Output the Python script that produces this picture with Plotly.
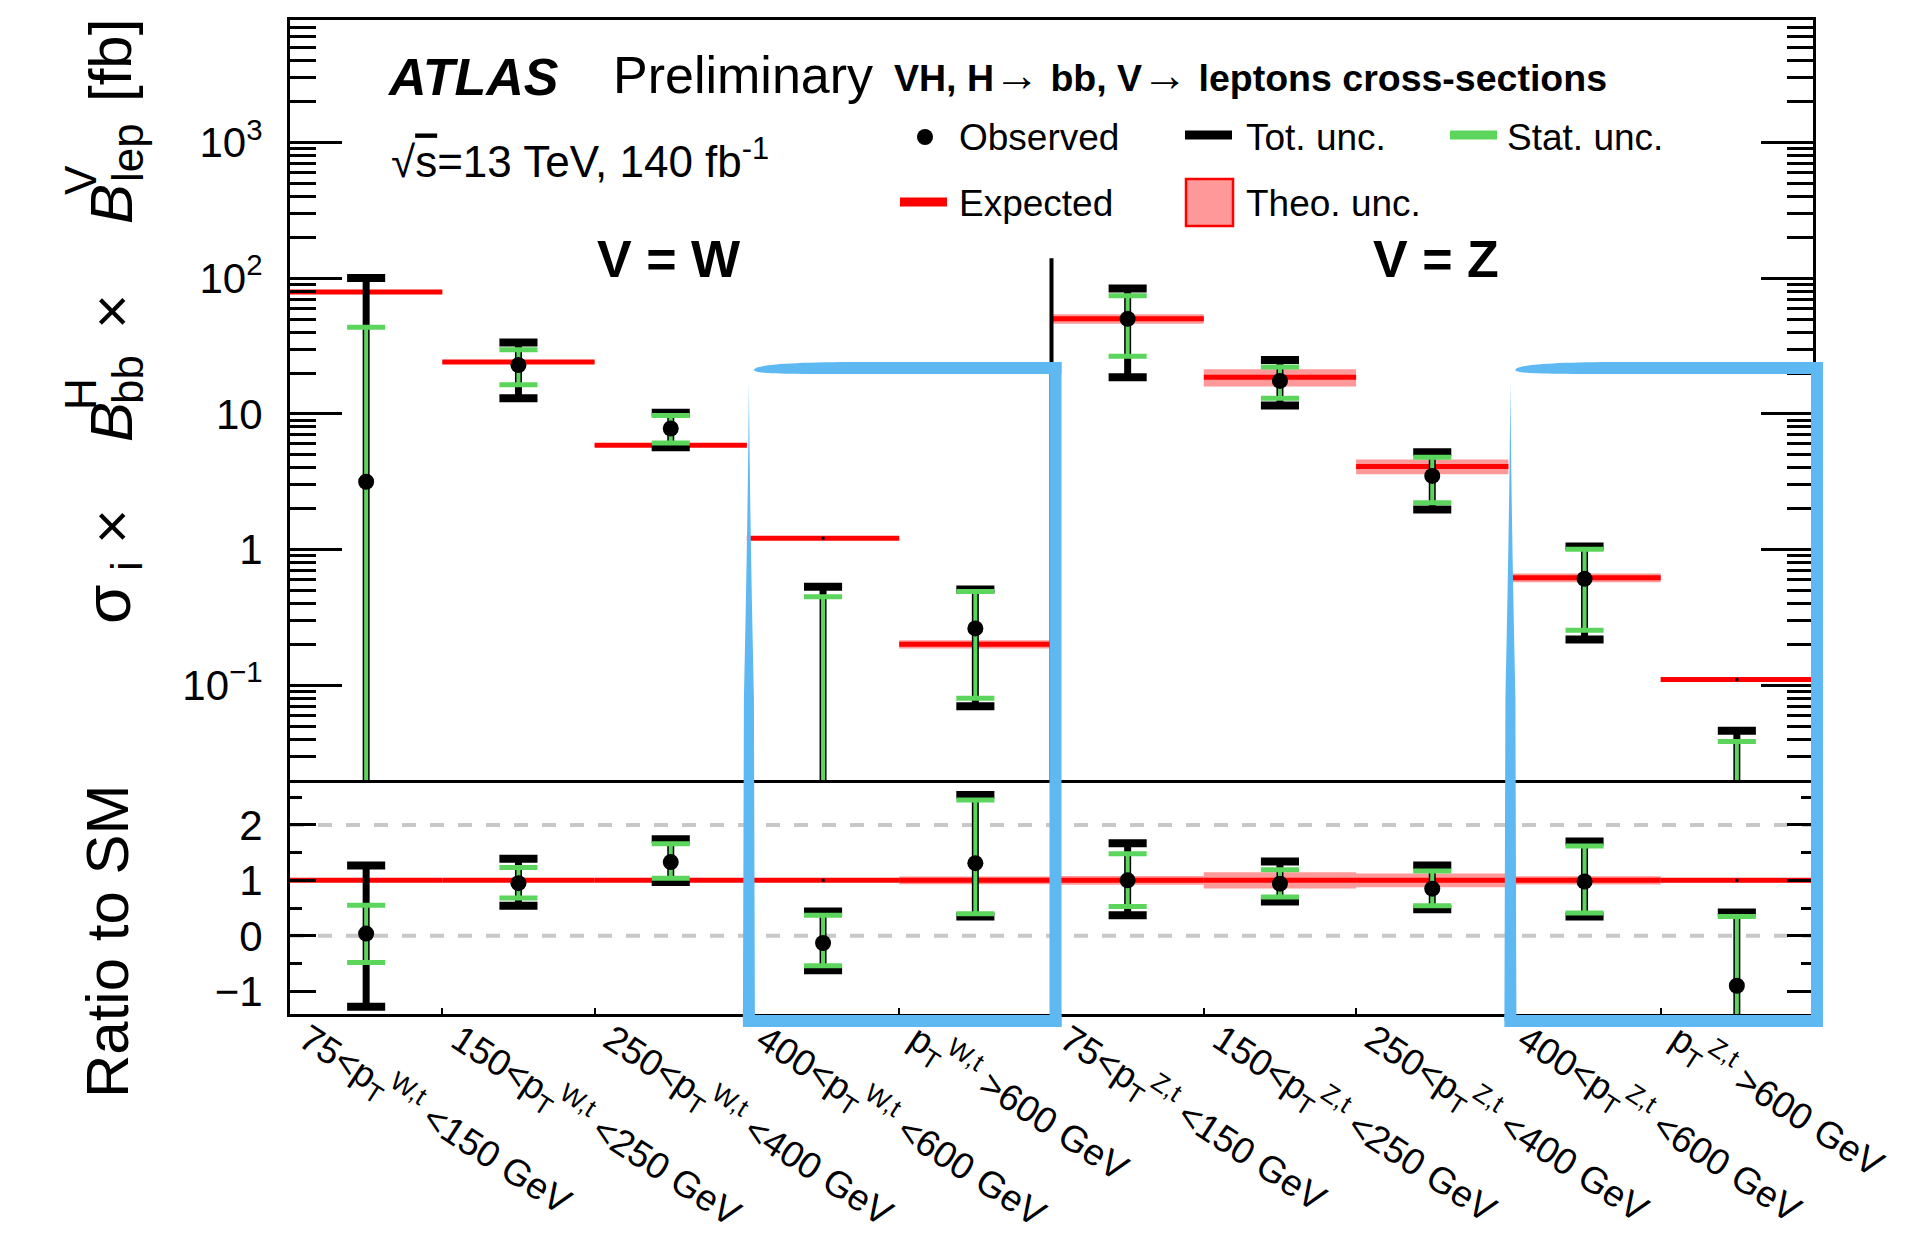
import numpy as np
import plotly.graph_objects as go

# ---------------------------------------------------------------- data ----
bin_labels = [
    "75&lt;p<sub>T</sub><sup>W,t</sup> &lt;150 GeV",
    "150&lt;p<sub>T</sub><sup>W,t</sup> &lt;250 GeV",
    "250&lt;p<sub>T</sub><sup>W,t</sup> &lt;400 GeV",
    "400&lt;p<sub>T</sub><sup>W,t</sup> &lt;600 GeV",
    "p<sub>T</sub><sup>W,t</sup> &gt;600 GeV",
    "75&lt;p<sub>T</sub><sup>Z,t</sup> &lt;150 GeV",
    "150&lt;p<sub>T</sub><sup>Z,t</sup> &lt;250 GeV",
    "250&lt;p<sub>T</sub><sup>Z,t</sup> &lt;400 GeV",
    "400&lt;p<sub>T</sub><sup>Z,t</sup> &lt;600 GeV",
    "p<sub>T</sub><sup>Z,t</sup> &gt;600 GeV",
]
# SM expectation [fb] and its relative theory uncertainty
expected_xsec = [79.0, 24.1, 5.86, 1.21, 0.20, 50.2, 18.6, 4.1, 0.62, 0.110]
theory_rel_unc = [0.02, 0.02, 0.025, 0.03, 0.07, 0.08, 0.145, 0.125, 0.075, 0.04]
# measured signal strength (ratio to SM) with total and statistical intervals
mu_obs = [0.04, 0.95, 1.33, -0.13, 1.31, 1.00, 0.94, 0.85, 0.98, -0.90]
mu_tot_lo = [-1.28, 0.54, 0.97, -0.62, 0.35, 0.37, 0.62, 0.48, 0.35, -2.60]
mu_tot_hi = [1.27, 1.39, 1.74, 0.44, 2.54, 1.67, 1.34, 1.27, 1.70, 0.42]
mu_stat_lo = [-0.48, 0.68, 1.04, -0.54, 0.40, 0.53, 0.70, 0.54, 0.41, -2.30]
mu_stat_hi = [0.55, 1.23, 1.66, 0.37, 2.45, 1.48, 1.19, 1.17, 1.62, 0.35]

main_yticks = [0.1, 1, 10, 100, 1000]
main_yticktext = ["10<sup>\u22121</sup>", "1", "10", "10<sup>2</sup>", "10<sup>3</sup>"]
ratio_yticks = [-1, 0, 1, 2]
ratio_yticktext = ["\u22121", "0", "1", "2"]
ratio_minor_ticks = [-0.5, 0.5, 1.5, 2.5]
ratio_reference_lines = [0, 2]
main_range = [0.02, 8000.0]
ratio_range = [-1.41, 2.81]
separator_edge = 5          # W | Z boundary (bin edge)
separator_top = 140.0       # fb
highlight_bins = [(3, 5), (8, 10)]

# -------------------------------------------------------------- styling ---
FONT = "Liberation Sans, Arial, Helvetica, sans-serif"
RED = "#FF0000"
PINK = "#FF9999"
GREEN = "#5CD55C"
BLUE = "#5EB9F2"
GREY = "#C8C8C8"

W_PX, H_PX = 1916, 1238
M_L, M_R, M_T, M_B = 290, 103, 20, 224
PLOT_W = W_PX - M_L - M_R
PLOT_H = H_PX - M_T - M_B
SPLIT_PX = 780


def fx(px):
    return (px - M_L) / PLOT_W


def fy(py):
    return (H_PX - M_B - py) / PLOT_H


ratio_top = fy(SPLIT_PX)

# ------------------------------------------------------------ geometry ----
n = len(expected_xsec)
edges = np.arange(n + 1, dtype=float)
centers = edges[:-1] + 0.5
cap_hw = 0.125
exp = np.array(expected_xsec)
th = np.array(theory_rel_unc)
mu = np.array(mu_obs)
tlo, thi = np.array(mu_tot_lo), np.array(mu_tot_hi)
slo, shi = np.array(mu_stat_lo), np.array(mu_stat_hi)
LOG_FLOOR = 1e-3


def hsegs(x0s, x1s, ys):
    X, Y = [], []
    for a, b, y in zip(x0s, x1s, ys):
        X += [a, b, None]
        Y += [y, y, None]
    return X, Y


def vsegs(xs, y0s, y1s):
    X, Y = [], []
    for x, a, b in zip(xs, y0s, y1s):
        X += [x, x, None]
        Y += [a, b, None]
    return X, Y


def rects(x0s, x1s, y0s, y1s):
    X, Y = [], []
    for a, b, c, d in zip(x0s, x1s, y0s, y1s):
        X += [a, b, b, a, a, None]
        Y += [c, c, d, d, c, None]
    return X, Y


def caps(xs, ys, positive_only):
    keep = [(x, y) for x, y in zip(xs, ys) if (y > 0 or not positive_only)]
    if not keep:
        return [], []
    kx = np.array([k[0] for k in keep])
    ky = [k[1] for k in keep]
    return hsegs(kx - cap_hw, kx + cap_hw, ky)


fig = go.Figure()


def add_panel(xa, ya, obs, e, tot_lo, tot_hi, st_lo, st_hi, band_lo, band_hi, is_log):
    # theory band
    X, Y = rects(edges[:-1], edges[1:], band_lo, band_hi)
    fig.add_trace(go.Scatter(x=X, y=Y, xaxis=xa, yaxis=ya, mode="lines", fill="toself",
                             fillcolor=PINK, line=dict(width=0), hoverinfo="skip",
                             showlegend=False))
    # expectation
    X, Y = hsegs(edges[:-1], edges[1:], e)
    fig.add_trace(go.Scatter(x=X, y=Y, xaxis=xa, yaxis=ya, mode="lines",
                             line=dict(color=RED, width=5), hoverinfo="skip", showlegend=False))
    fig.add_trace(go.Scatter(x=centers, y=e, xaxis=xa, yaxis=ya, mode="markers",
                             marker=dict(symbol="square", size=3, color="black"),
                             hoverinfo="skip", showlegend=False))
    clip = (lambda v: np.maximum(v, LOG_FLOOR)) if is_log else (lambda v: v)
    # total uncertainty
    X, Y = vsegs(centers, clip(tot_lo), tot_hi)
    fig.add_trace(go.Scatter(x=X, y=Y, xaxis=xa, yaxis=ya, mode="lines",
                             line=dict(color="black", width=7), hoverinfo="skip", showlegend=False))
    X, Y = caps(np.concatenate([centers, centers]), np.concatenate([tot_lo, tot_hi]), is_log)
    fig.add_trace(go.Scatter(x=X, y=Y, xaxis=xa, yaxis=ya, mode="lines",
                             line=dict(color="black", width=8), hoverinfo="skip", showlegend=False))
    # statistical uncertainty
    X, Y = vsegs(centers, clip(st_lo), st_hi)
    fig.add_trace(go.Scatter(x=X, y=Y, xaxis=xa, yaxis=ya, mode="lines",
                             line=dict(color=GREEN, width=4), hoverinfo="skip", showlegend=False))
    X, Y = caps(np.concatenate([centers, centers]), np.concatenate([st_lo, st_hi]), is_log)
    fig.add_trace(go.Scatter(x=X, y=Y, xaxis=xa, yaxis=ya, mode="lines",
                             line=dict(color=GREEN, width=5), hoverinfo="skip", showlegend=False))
    # observed
    ok = obs > 0 if is_log else np.ones_like(obs, dtype=bool)
    fig.add_trace(go.Scatter(x=centers[ok], y=obs[ok], xaxis=xa, yaxis=ya, mode="markers",
                             marker=dict(symbol="circle", size=16, color="black"),
                             hoverinfo="skip", showlegend=False))


# ratio panel: reference lines first
for ref in ratio_reference_lines:
    fig.add_trace(go.Scatter(x=[edges[0], edges[-1]], y=[ref, ref], xaxis="x2", yaxis="y2",
                             mode="lines", line=dict(color=GREY, width=4, dash="14px,14px"),
                             hoverinfo="skip", showlegend=False))

# main panel (cross-sections = ratio x expectation)
add_panel("x", "y", mu * exp, exp, tlo * exp, thi * exp, slo * exp, shi * exp,
          exp * (1 - th), exp * (1 + th), True)
# W / Z divider
fig.add_trace(go.Scatter(x=[separator_edge, separator_edge], y=[LOG_FLOOR, separator_top],
                         xaxis="x", yaxis="y", mode="lines", line=dict(color="black", width=4),
                         hoverinfo="skip", showlegend=False))
# ratio panel
add_panel("x2", "y2", mu, np.ones(n), tlo, thi, slo, shi, 1 - th, 1 + th, False)

# --------------------------------------------------------------- axes -----
main_minor = [k * 10.0 ** p for p in range(-2, 4) for k in range(2, 10)
              if main_range[0] < k * 10.0 ** p < main_range[1]]
tickfont = dict(family=FONT, size=42, color="black")

fig.update_layout(
    template="none",
    width=W_PX, height=H_PX,
    margin=dict(l=M_L, r=M_R, t=M_T, b=M_B, autoexpand=False),
    paper_bgcolor="white", plot_bgcolor="white",
    showlegend=False,
    xaxis=dict(domain=[0, 1], anchor="y", range=[0, n], showline=True, mirror=True,
               linecolor="black", linewidth=3, ticks="", showticklabels=False,
               showgrid=False, zeroline=False),
    yaxis=dict(domain=[ratio_top, 1], anchor="x", type="log",
               range=[np.log10(main_range[0]), np.log10(main_range[1])],
               showline=True, mirror="ticks", linecolor="black", linewidth=3,
               ticks="inside", ticklen=52, tickwidth=2.5, tickcolor="black",
               tickvals=main_yticks, ticktext=main_yticktext, tickfont=tickfont,
               ticklabelstandoff=16,
               minor=dict(tickvals=main_minor, ticks="inside", ticklen=26, tickwidth=2.5,
                          tickcolor="black", showgrid=False),
               showgrid=False, zeroline=False, automargin=False),
    xaxis2=dict(domain=[0, 1], anchor="y2", range=[0, n], showline=True, mirror=False,
                linecolor="black", linewidth=3, ticks="inside", ticklen=6, tickwidth=2,
                tickcolor="black", tickvals=list(edges[1:-1]), showticklabels=False,
                showgrid=False, zeroline=False),
    yaxis2=dict(domain=[0, ratio_top], anchor="x2", range=ratio_range,
                showline=True, mirror="ticks", linecolor="black", linewidth=3,
                ticks="inside", ticklen=26, tickwidth=2.5, tickcolor="black",
                tickvals=ratio_yticks, ticktext=ratio_yticktext, tickfont=tickfont,
                ticklabelstandoff=16,
                minor=dict(tickvals=ratio_minor_ticks, ticks="inside", ticklen=12,
                           tickwidth=2.5, tickcolor="black", showgrid=False),
                showgrid=False, zeroline=False, automargin=False),
)

annotations = []


def note(text, px, py, size, xanchor="left", yanchor="middle", angle=0, color="black"):
    annotations.append(dict(text=text, x=fx(px), y=fy(py), xref="paper", yref="paper",
                            xanchor=xanchor, yanchor=yanchor, showarrow=False,
                            textangle=angle, font=dict(family=FONT, size=size, color=color)))


# x-axis bin labels, slanted below the ratio panel
for i, lab in enumerate(bin_labels):
    cx_px = M_L + PLOT_W * centers[i] / n
    note(lab, cx_px - 79, 1010, 37, xanchor="left", yanchor="top", angle=33)

# y-axis title of the cross-section panel, built piece by piece
ytitle_parts = [
    ("\u03c3", 64, 108, 604), ("i", 44, 127, 566), ("\u00d7", 60, 111, 527),
    ("<i>B</i>", 60, 111, 422), ("H", 44, 80, 394), ("bb", 44, 127, 380),
    ("\u00d7", 60, 111, 312),
    ("<i>B</i>", 60, 111, 204), ("V", 44, 80, 180), ("lep", 44, 127, 153),
    ("[fb]", 60, 111, 61),
]
for txt, size, px, py in ytitle_parts:
    note(txt, px, py, size, xanchor="center", yanchor="middle", angle=-90)

note("Ratio to SM", 107, 942, 60, xanchor="center", yanchor="middle", angle=-90)

# labels inside the frame
note("<b><i>ATLAS</i></b>", 385, 77, 52)
note("Preliminary", 611, 75, 52)
note("<b>VH, H<span style='font-size:46px'>\u2192</span> bb, "
     "V<span style='font-size:46px'>\u2192</span> leptons cross-sections</b>", 892, 75, 37.5)
note("\u221a<span style='text-decoration:overline'>s</span>=13 TeV, 140 fb<sup>-1</sup>",
     389, 158, 44)
note("<b>V = W</b>", 669, 259, 52, xanchor="center")
note("<b>V = Z</b>", 1436, 259, 52, xanchor="center")

# legend entries
note("Observed", 957, 137, 37)
note("Tot. unc.", 1244, 137, 37)
note("Stat. unc.", 1505, 137, 37)
note("Expected", 957, 203, 37)
note("Theo. unc.", 1244, 203, 37)

shapes = []


def rect_px(x0, x1, y0, y1, fill, line_color=None, line_width=0, layer="above"):
    shapes.append(dict(type="rect", xref="paper", yref="paper",
                       x0=fx(x0), x1=fx(x1), y0=fy(y1), y1=fy(y0),
                       fillcolor=fill, layer=layer,
                       line=dict(color=line_color or fill, width=line_width)))


shapes.append(dict(type="circle", xref="paper", yref="paper", x0=fx(917), x1=fx(933),
                   y0=fy(145), y1=fy(129), fillcolor="black", line=dict(width=0)))
rect_px(1185, 1232, 130.5, 139.5, "black")
rect_px(1450, 1497, 130.5, 139.5, GREEN)
rect_px(900, 947, 197.5, 206.5, RED)
rect_px(1186, 1233, 179, 226, PINK, RED, 2.5)


# highlight frames around the high-pT bins
def highlight(x_left, x_right, y_top, y_bot, t=6):
    def P(px, py):
        return f"{fx(px):.6f},{fy(py):.6f}"
    # top stroke with a tapered start
    top = (f"M {P(x_left + 5, y_top + 2)} "
           f"C {P(x_left + 5, y_top - 3)} {P(x_left + 40, y_top - t)} {P(x_left + 110, y_top - t)} "
           f"L {P(x_right + t, y_top - t)} L {P(x_right + t, y_top + t)} "
           f"L {P(x_left + 110, y_top + t)} "
           f"C {P(x_left + 40, y_top + t)} {P(x_left + 5, y_top + 6)} {P(x_left + 5, y_top + 2)} Z")
    # left stroke, thin at the top and widening downwards
    left = (f"M {P(x_left, y_top + 14)} "
            f"Q {P(x_left + 1, y_top + 150)} {P(x_left + t - 1, y_top + 330)} "
            f"L {P(x_left + t, y_bot)} L {P(x_left - t, y_bot)} L {P(x_left - t + 1, y_top + 330)} "
            f"Q {P(x_left - 1, y_top + 150)} {P(x_left, y_top + 14)} Z")
    for pstr in (top, left):
        shapes.append(dict(type="path", xref="paper", yref="paper", path=pstr,
                           fillcolor=BLUE, line=dict(width=0), layer="above"))
    rect_px(x_right - t, x_right + t, y_top - t, y_bot + t, BLUE)
    rect_px(x_left - t, x_right + t, y_bot - t, y_bot + t, BLUE)


for b0, b1 in highlight_bins:
    xl = M_L + PLOT_W * b0 / n + 2
    xr = M_L + PLOT_W * b1 / n + 4
    highlight(xl, xr, 368, 1021)

fig.update_layout(annotations=annotations, shapes=shapes)
fig.write_html("out.html")
